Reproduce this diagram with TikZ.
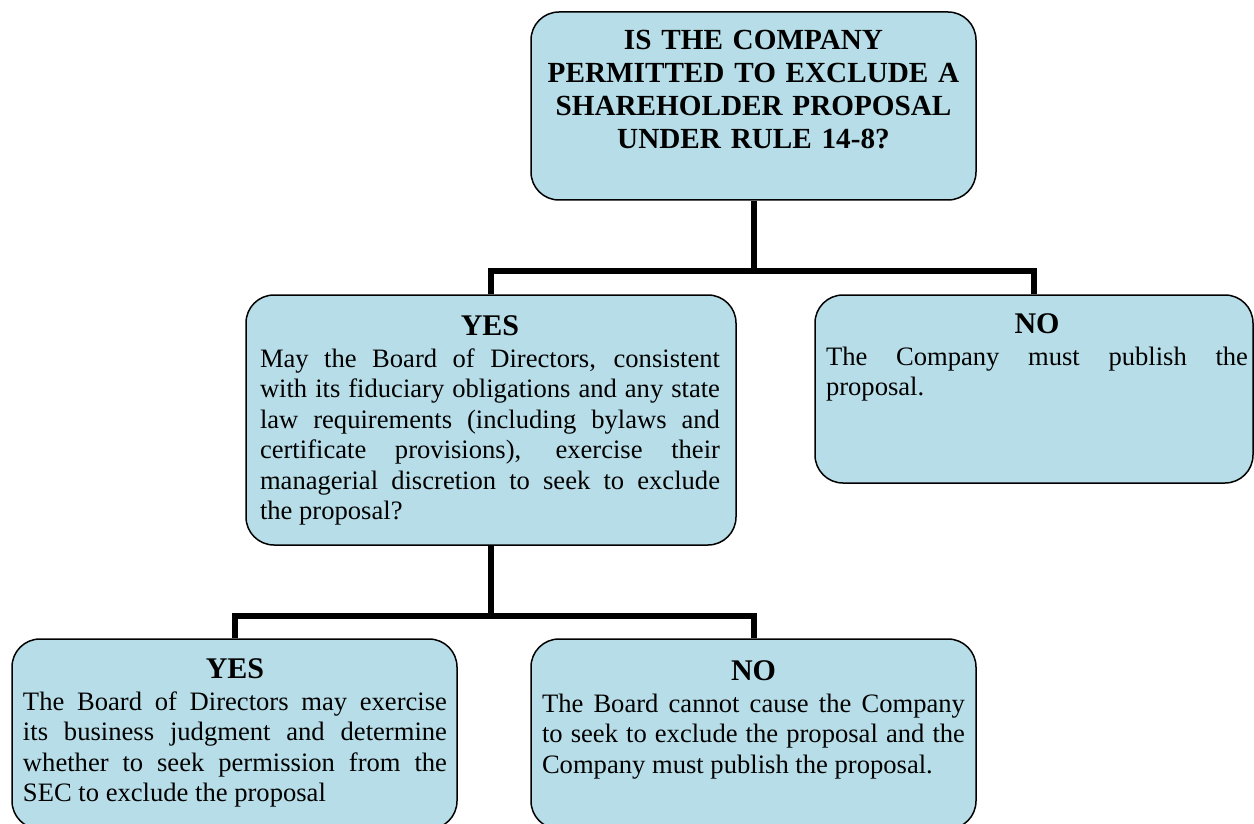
\documentclass[tikz,border=0pt]{standalone}
\usepackage{fontspec}
\setmainfont{Liberation Serif}
\definecolor{boxfill}{HTML}{B7DEE8}
\begin{document}
\begin{tikzpicture}[x=0.5pt,y=-0.5pt,
  box/.style={draw=black, line width=0.75pt, fill=boxfill, rounded corners=14pt, inner sep=0pt},
  conn/.style={draw=black, line width=3pt, line join=miter},
  txt/.style={inner sep=0pt, anchor=north, align=justify, font=\fontsize{13.3}{15.25}\selectfont},
  head/.style={font=\fontsize{14.6}{16.5}\selectfont\bfseries}
  ]
\useasboundingbox (0,0) rectangle (1254,824);
\clip (0,0) rectangle (1254,824);
% boxes
\node[box, minimum width=222.5pt, minimum height=94pt] (top) at (753.5,106) {};
\node[box, minimum width=245pt, minimum height=125pt] (midL) at (491,420) {};
\node[box, minimum width=219pt, minimum height=94pt] (midR) at (1034,389) {};
\node[box, minimum width=222.5pt, minimum height=95pt] (botL) at (234.5,734) {};
\node[box, minimum width=222.5pt, minimum height=95pt] (botR) at (753.5,734) {};
% connectors
\coordinate (h1) at (753.5,271);
\coordinate (h2) at (491,616);
\draw[conn] (top.south) -- (h1);
\draw[conn] (midL.north) |- (midR.north |- h1) -- (midR.north);
\draw[conn] (midL.south) -- (h2);
\draw[conn] (botL.north) |- (botR.north |- h2) -- (botR.north);
% texts
\node[txt, head, text width=216pt, align=center] (tTop) at (753.5,30)
  {IS THE COMPANY\\PERMITTED TO EXCLUDE A\\SHAREHOLDER PROPOSAL\\UNDER RULE 14-8?};
\node[txt, text width=230pt] (tMidL) at (490,315)
  {{\centering\fontsize{15}{16}\selectfont\bfseries YES\par}\vspace{0.75pt}%
   May the Board of Directors, consistent\linebreak
   with its fiduciary obligations and any state\linebreak
   law requirements (including bylaws and\linebreak
   certificate provisions), exercise their\linebreak
   managerial discretion to seek to exclude\linebreak
   the proposal?};
\node[txt, text width=211pt] (tMidR) at (1037,313)
  {{\centering\fontsize{15}{16}\selectfont\bfseries NO\par}\vspace{0.75pt}%
   The Company must publish the\linebreak
   proposal.};
\node[txt, text width=212pt] (tBotL) at (235,658)
  {{\centering\fontsize{15}{16}\selectfont\bfseries YES\par}\vspace{0.75pt}%
   The Board of Directors may exercise\linebreak
   its business judgment and determine\linebreak
   whether to seek permission from the\linebreak
   SEC to exclude the proposal};
\node[txt, text width=211.5pt] (tBotR) at (753.5,660)
  {{\centering\fontsize{15}{16}\selectfont\bfseries NO\par}\vspace{0.75pt}%
   The Board cannot cause the Company\linebreak
   to seek to exclude the proposal and the\linebreak
   Company must publish the proposal.};
\end{tikzpicture}
\end{document}
